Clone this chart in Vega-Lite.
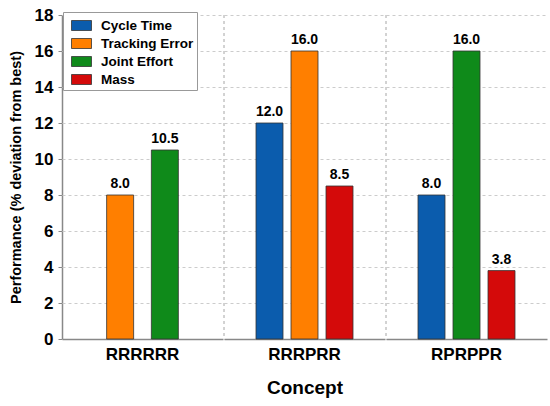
{
  "$schema": "https://vega.github.io/schema/vega-lite/v6.json",
  "padding": {"left": 8, "top": 6, "right": 8, "bottom": 5},
  "background": "white",
  "data": {
    "values": [
      {"Concept": "RRRRRR", "Metric": "Tracking Error", "Value": 8.0},
      {"Concept": "RRRRRR", "Metric": "Joint Effort", "Value": 10.5},
      {"Concept": "RRRPRR", "Metric": "Cycle Time", "Value": 12.0},
      {"Concept": "RRRPRR", "Metric": "Tracking Error", "Value": 16.0},
      {"Concept": "RRRPRR", "Metric": "Mass", "Value": 8.5},
      {"Concept": "RPRPPR", "Metric": "Cycle Time", "Value": 8.0},
      {"Concept": "RPRPPR", "Metric": "Joint Effort", "Value": 16.0},
      {"Concept": "RPRPPR", "Metric": "Mass", "Value": 3.8}
    ]
  },
  "facet": {
    "column": {
      "field": "Concept",
      "sort": ["RRRRRR", "RRRPRR", "RPRPPR"],
      "header": {
        "title": "Concept",
        "titleOrient": "bottom",
        "labelOrient": "bottom",
        "labelFontSize": 17,
        "labelFontWeight": "bold",
        "labelColor": "black",
        "labelPadding": 7,
        "titleFontSize": 19,
        "titleFontWeight": "bold",
        "titleColor": "black",
        "titlePadding": 6
      }
    }
  },
  "spacing": 0,
  "resolve": {"scale": {"x": "independent"}},
  "spec": {
    "width": 161,
    "height": 324,
    "layer": [
      {
        "transform": [{"filter": "datum.Concept != 'RRRRRR'"}],
        "mark": {"type": "rule", "strokeDash": [3, 3], "color": "#cccccc", "strokeWidth": 1},
        "encoding": {"x": {"value": 0}}
      },
      {
        "mark": {"type": "bar", "width": 27, "stroke": "#333333", "strokeWidth": 0.8},
        "encoding": {
          "x": {
            "field": "Metric",
            "type": "nominal",
            "sort": ["Cycle Time", "Tracking Error", "Joint Effort", "Mass"],
            "scale": {"paddingInner": 0, "paddingOuter": 0.8},
            "axis": {"labels": false, "ticks": false, "title": null, "grid": false, "domainColor": "#888888", "domainWidth": 1.5}
          },
          "y": {
            "field": "Value",
            "type": "quantitative",
            "scale": {"domain": [0, 18], "nice": false},
            "axis": {
              "title": "Performance (% deviation from best)",
              "values": [0, 2, 4, 6, 8, 10, 12, 14, 16, 18],
              "labelOverlap": false,
              "grid": true,
              "gridDash": [3, 3],
              "gridColor": "#cccccc",
              "domainColor": "#888888",
              "domainWidth": 1.5,
              "tickColor": "#888888",
              "tickSize": 4,
              "labelFontSize": 17,
              "labelFontWeight": "bold",
              "labelColor": "black",
              "labelPadding": 5,
              "titleFontSize": 14.5,
              "titleFontWeight": "bold",
              "titleColor": "black",
              "titlePadding": 11
            }
          },
          "color": {
            "field": "Metric",
            "type": "nominal",
            "scale": {
              "domain": ["Cycle Time", "Tracking Error", "Joint Effort", "Mass"],
              "range": ["#0b5cad", "#ff7f00", "#0f8a1a", "#d40a0a"]
            },
            "legend": {
              "title": null,
              "orient": "none",
              "legendX": 1,
              "legendY": -3,
              "symbolType": "M-1,-0.5H1V0.5H-1Z",
              "symbolSize": 400,
              "symbolOffset": 5,
              "symbolStrokeColor": "#333333",
              "symbolStrokeWidth": 0.8,
              "labelFontSize": 13.5,
              "labelFontWeight": "bold",
              "labelColor": "black",
              "labelOffset": 9,
              "strokeColor": "#999999",
              "fillColor": "white",
              "padding": 3,
              "rowPadding": -2
            }
          }
        }
      },
      {
        "mark": {"type": "text", "dy": -7, "baseline": "alphabetic", "fontSize": 14, "fontWeight": "bold", "color": "black"},
        "encoding": {
          "x": {"field": "Metric", "type": "nominal", "sort": ["Cycle Time", "Tracking Error", "Joint Effort", "Mass"]},
          "y": {
            "field": "Value",
            "type": "quantitative",
            "axis": {
              "title": "Performance (% deviation from best)",
              "values": [0, 2, 4, 6, 8, 10, 12, 14, 16, 18],
              "labelOverlap": false,
              "grid": true,
              "gridDash": [3, 3],
              "gridColor": "#cccccc",
              "domainColor": "#888888",
              "domainWidth": 1.5,
              "tickColor": "#888888",
              "tickSize": 4,
              "labelFontSize": 17,
              "labelFontWeight": "bold",
              "labelColor": "black",
              "labelPadding": 5,
              "titleFontSize": 14.5,
              "titleFontWeight": "bold",
              "titleColor": "black",
              "titlePadding": 11
            }
          },
          "text": {"field": "Value", "type": "quantitative", "format": ".1f"}
        }
      }
    ]
  },
  "config": {
    "font": "Liberation Sans",
    "view": {"stroke": null}
  }
}
